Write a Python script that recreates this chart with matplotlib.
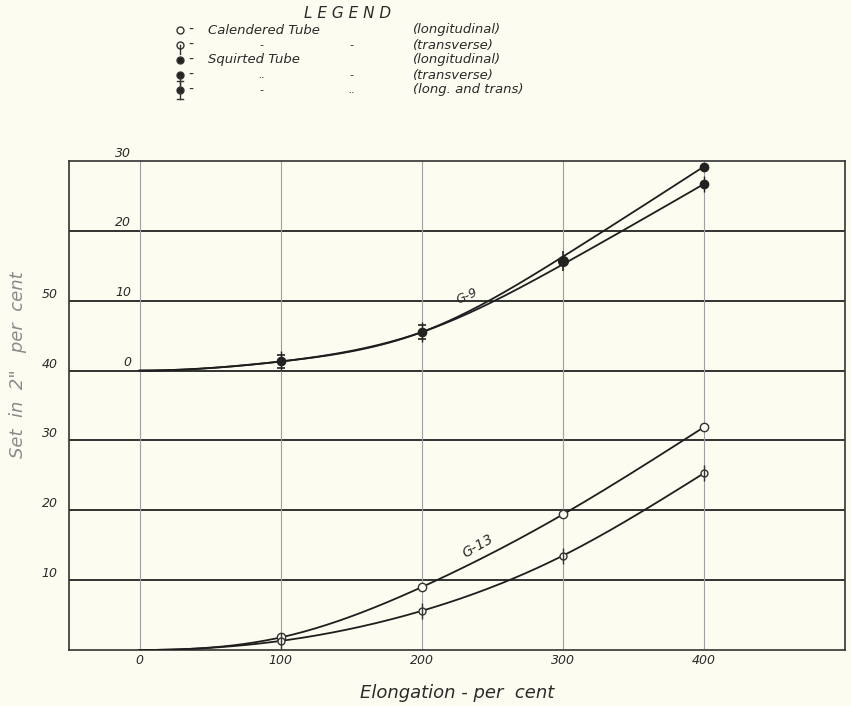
import numpy as np
import matplotlib.pyplot as plt
from matplotlib.lines import Line2D

# values
elong = [0, 100, 200, 300, 400]
g13_long = [0, 1.8, 9.0, 19.4, 31.9]     # calendered tube, longitudinal
g13_trans = [0, 1.3, 5.6, 13.5, 25.3]    # calendered tube, transverse
g9_long = [0, 1.3, 5.5, 16.3, 29.2]      # squirted tube, longitudinal
g9_trans = [0, 1.3, 5.5, 15.2, 26.7]     # squirted tube, transverse
g9_offset = 40                           # G-9 drawn on the upper scale (0 at 40)

lower_ticks = [10, 20, 30, 40, 50]
upper_ticks = [0, 10, 20, 30]
x_ticks = [0, 100, 200, 300, 400]

bg = '#fdfcf1'
ink = '#2a2a2a'
font = dict(family='DejaVu Sans', style='italic', color=ink)

fig = plt.figure(figsize=(8.51, 7.06), dpi=100, facecolor=bg)
ax = fig.add_axes([69/851, 56/706, 776/851, 489/706], facecolor=bg)
ax.set_xlim(-50, 500)
ax.set_ylim(0, 70)

# grid
for y in range(10, 70, 10):
    ax.axhline(y, color='#222', lw=1.3, zorder=1)
for x in x_ticks:
    ax.axvline(x, color='#a0a0a0', lw=0.8, zorder=1)
for s in ax.spines.values():
    s.set_color('#333')
    s.set_linewidth(1.2)

ax.tick_params(length=0)
ax.set_xticks(x_ticks)
ax.set_xticklabels([str(v) for v in x_ticks], fontsize=9, **font)
ax.set_yticks(lower_ticks)
ax.set_yticklabels([str(v) for v in lower_ticks], fontsize=9, va='bottom', **font)
ax.tick_params(axis='y', pad=8)
ax.tick_params(axis='x', pad=3)
for v in upper_ticks:
    ax.text(-6, g9_offset + v + 0.2, str(v), ha='right', va='bottom', fontsize=9, **font)

ax.set_xlabel('Elongation - per  cent', fontsize=13, labelpad=12, **font)
fig.text(18/851, 1 - 365/706, 'Set  in  2"   per  cent', rotation=90, fontsize=13,
         ha='center', va='center', family='DejaVu Sans', style='italic', color='#8a8a8a')


def spline(xs, ys, n=200):
    # cubic spline through the read points, flat start, natural end
    xs = np.asarray(xs, float)
    ys = np.asarray(ys, float)
    h = np.diff(xs)
    d = np.diff(ys) / h
    N = len(xs)
    A = np.zeros((N, N))
    b = np.zeros(N)
    A[0, 0], A[0, 1] = 2 * h[0], h[0]
    b[0] = 6 * d[0]
    for i in range(1, N - 1):
        A[i, i - 1], A[i, i], A[i, i + 1] = h[i - 1], 2 * (h[i - 1] + h[i]), h[i]
        b[i] = 6 * (d[i] - d[i - 1])
    A[-1, -1] = 1
    M = np.linalg.solve(A, b)
    xx = np.linspace(xs[0], xs[-1], n)
    k = np.clip(np.searchsorted(xs, xx) - 1, 0, N - 2)
    hk = h[k]
    a = xs[k + 1] - xx
    c = xx - xs[k]
    yy = (M[k] * a**3 + M[k + 1] * c**3) / (6 * hk) \
        + (ys[k] / hk - M[k] * hk / 6) * a + (ys[k + 1] / hk - M[k + 1] * hk / 6) * c
    return xx, yy


for ys, off in [(g13_long, 0), (g13_trans, 0), (g9_long, g9_offset), (g9_trans, g9_offset)]:
    xx, yy = spline(elong, ys)
    ax.plot(xx, yy + off, color='#1e1e1e', lw=1.3, zorder=3)

mk = dict(zorder=5, clip_on=False)
# calendered tube points
ax.plot(elong[1:], g13_long[1:], 'o', ms=6, mfc=bg, mec='#333', mew=1.0, **mk)
ax.plot(elong[1:], g13_trans[1:], 'o', ms=5, mfc=bg, mec='#333', mew=1.0, **mk)
ax.plot(elong[1:], g13_trans[1:], '|', ms=12, mec='#333', mew=1.0, **mk)
# squirted tube points
g9l = np.array(g9_long) + g9_offset
g9t = np.array(g9_trans) + g9_offset
ax.plot(elong[1:3], g9l[1:3], 'o', ms=6, color='#222', **mk)
ax.plot(elong[1:3], g9l[1:3], '|', ms=14, mec='#222', mew=1.0, **mk)
ax.plot(elong[1:3], g9l[1:3] + 1.0, '_', ms=6, mec='#222', mew=1.2, **mk)
ax.plot(elong[1:3], g9l[1:3] - 1.0, '_', ms=6, mec='#222', mew=1.2, **mk)
ax.plot([elong[3]], [(g9l[3] + g9t[3]) / 2], 'o', ms=7, color='#222', **mk)
ax.plot([elong[3]], [(g9l[3] + g9t[3]) / 2], '|', ms=14, mec='#222', mew=1.2, **mk)
ax.plot([elong[4]], [g9l[4]], 'o', ms=6, color='#222', **mk)
ax.plot([elong[4]], [g9t[4]], 'o', ms=6, color='#222', **mk)
ax.plot([elong[4]], [g9t[4]], '|', ms=12, mec='#222', mew=1.0, **mk)

# curve labels
ax.text(232, 50.6, 'G-9', rotation=25, fontsize=9, ha='center', va='center', **font)
ax.text(240, 14.9, 'G-13', rotation=30, fontsize=10, ha='center', va='center', **font)

# legend drawn in figure pixels
def px(x, y):
    return x / 851, 1 - y / 706

fig.text(*px(348, 13), 'L E G E N D', fontsize=11, ha='center', va='center', **font)
rows = [30, 45, 60, 75, 90]
left_txt = ['Calendered Tube', '-', 'Squirted Tube', '..', '-']
mid_txt = ['', '-', '', '-', '..']
right_txt = ['(longitudinal)', '(transverse)', '(longitudinal)', '(transverse)', '(long. and trans)']
styles = [('o', bg, False, False), ('o', bg, True, False), ('o', '#222', False, False),
          ('o', '#222', True, False), ('o', '#222', True, True)]
for y, lt, mt, rt, (m, fc, bar, caps) in zip(rows, left_txt, mid_txt, right_txt, styles):
    mx, my = px(180, y)
    fig.add_artist(Line2D([mx], [my], marker=m, ms=5, mfc=fc, mec='#333', mew=1.0, ls=''))
    if bar:
        fig.add_artist(Line2D([mx, mx], [my - 9/706, my + 9/706 if caps else my], color='#333', lw=1.0))
    if caps:
        fig.add_artist(Line2D([mx - 3/851, mx + 3/851], [my + 9/706] * 2, color='#333', lw=1.0))
        fig.add_artist(Line2D([mx - 3/851, mx + 3/851], [my - 9/706] * 2, color='#333', lw=1.0))
    fig.text(*px(188, y), '-', fontsize=10, ha='left', va='center', **font)
    if lt in ('-', '..'):
        fig.text(*px(262, y), lt, fontsize=8, ha='center', va='center', **font)
    else:
        fig.text(*px(208, y), lt, fontsize=9.5, ha='left', va='center', **font)
    if mt:
        fig.text(*px(352, y), mt, fontsize=8, ha='center', va='center', **font)
    fig.text(*px(413, y), rt, fontsize=9.5, ha='left', va='center', **font)

fig.savefig('out.png', dpi=100, facecolor=bg)
